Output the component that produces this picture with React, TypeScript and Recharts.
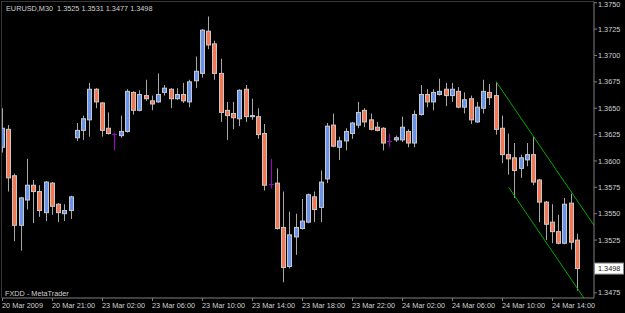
import { ComposedChart, Bar, XAxis, YAxis, ReferenceLine } from 'recharts';

// EURUSD M30 bars, 20 Mar 17:00 .. 24 Mar 15:00 (2009)
const OPEN = [
  1.3613, 1.3630, 1.3586, 1.3539, 1.3563, 1.3577, 1.3571, 1.3551, 1.3579, 1.3559,
  1.3550, 1.3553, 1.3622, 1.3629, 1.3639, 1.3668, 1.3655, 1.3631, 1.3626, 1.3624,
  1.3628, 1.3665, 1.3648, 1.3662, 1.3657, 1.3656, 1.3665, 1.3668, 1.3659, 1.3663,
  1.3656, 1.3676, 1.3683, 1.3723, 1.3711, 1.3683, 1.3648, 1.3645, 1.3640, 1.3668,
  1.3642, 1.3642, 1.3626, 1.3578, 1.3579, 1.3537, 1.3500, 1.3528, 1.3536, 1.3542,
  1.3566, 1.3556, 1.3583, 1.3634, 1.3613, 1.3619, 1.3626, 1.3634, 1.3648, 1.3639,
  1.3632, 1.3631, 1.3619, 1.3620, 1.3620, 1.3628, 1.3617, 1.3644, 1.3663, 1.3656,
  1.3663, 1.3668, 1.3662, 1.3666, 1.3651, 1.3659, 1.3637, 1.3650, 1.3665, 1.3662,
  1.3631, 1.3606, 1.3603, 1.3593, 1.3601, 1.3606, 1.3582, 1.3561, 1.3542, 1.3533,
  1.3522, 1.3560, 1.3525,
];
const HIGH = [
  1.3650, 1.3634, 1.3588, 1.3566, 1.3602, 1.3582, 1.3577, 1.3581, 1.3580, 1.3560,
  1.3559, 1.3567, 1.3636, 1.3643, 1.3674, 1.3669, 1.3656, 1.3646, 1.3627, 1.3643,
  1.3668, 1.3666, 1.3667, 1.3677, 1.3662, 1.3683, 1.3672, 1.3669, 1.3669, 1.3674,
  1.3677, 1.3699, 1.3725, 1.3737, 1.3714, 1.3697, 1.3656, 1.3656, 1.3668, 1.3672,
  1.3659, 1.3650, 1.3635, 1.3602, 1.3593, 1.3571, 1.3552, 1.3550, 1.3564, 1.3569,
  1.3571, 1.3591, 1.3636, 1.3645, 1.3623, 1.3631, 1.3637, 1.3656, 1.3650, 1.3645,
  1.3637, 1.3632, 1.3626, 1.3624, 1.3642, 1.3630, 1.3648, 1.3672, 1.3668, 1.3668,
  1.3678, 1.3674, 1.3674, 1.3670, 1.3665, 1.3662, 1.3656, 1.3677, 1.3673, 1.3675,
  1.3643, 1.3626, 1.3617, 1.3606, 1.3617, 1.3623, 1.3583, 1.3562, 1.3559, 1.3549,
  1.3565, 1.3569, 1.3531,
];
const LOW = [
  1.3608, 1.3571, 1.3524, 1.3515, 1.3554, 1.3541, 1.3547, 1.3543, 1.3549, 1.3542,
  1.3543, 1.3545, 1.3619, 1.3620, 1.3623, 1.3650, 1.3623, 1.3625, 1.3610, 1.3622,
  1.3627, 1.3644, 1.3647, 1.3657, 1.3648, 1.3655, 1.3662, 1.3650, 1.3658, 1.3655,
  1.3651, 1.3669, 1.3679, 1.3706, 1.3677, 1.3637, 1.3620, 1.3630, 1.3633, 1.3637,
  1.3639, 1.3621, 1.3572, 1.3574, 1.3535, 1.3485, 1.3498, 1.3511, 1.3535, 1.3541,
  1.3542, 1.3542, 1.3579, 1.3613, 1.3601, 1.3610, 1.3621, 1.3631, 1.3632, 1.3629,
  1.3628, 1.3610, 1.3613, 1.3618, 1.3618, 1.3613, 1.3613, 1.3643, 1.3651, 1.3648,
  1.3662, 1.3652, 1.3656, 1.3650, 1.3645, 1.3635, 1.3636, 1.3645, 1.3653, 1.3625,
  1.3598, 1.3587, 1.3565, 1.3584, 1.3595, 1.3577, 1.3542, 1.3525, 1.3522, 1.3521,
  1.3521, 1.3516, 1.3477,
];
const CLOSE = [
  1.3631, 1.3584, 1.3539, 1.3565, 1.3577, 1.3571, 1.3553, 1.3580, 1.3557, 1.3551,
  1.3553, 1.3566, 1.3629, 1.3640, 1.3668, 1.3656, 1.3629, 1.3626, 1.3626, 1.3628,
  1.3666, 1.3648, 1.3663, 1.3659, 1.3654, 1.3663, 1.3669, 1.3659, 1.3663, 1.3657,
  1.3675, 1.3685, 1.3724, 1.3710, 1.3683, 1.3646, 1.3643, 1.3641, 1.3667, 1.3642,
  1.3643, 1.3625, 1.3577, 1.3578, 1.3536, 1.3499, 1.3530, 1.3537, 1.3543, 1.3568,
  1.3554, 1.3580, 1.3633, 1.3614, 1.3619, 1.3628, 1.3636, 1.3646, 1.3637, 1.3630,
  1.3629, 1.3617, 1.3619, 1.3622, 1.3632, 1.3617, 1.3644, 1.3663, 1.3656, 1.3665,
  1.3666, 1.3662, 1.3668, 1.3651, 1.3658, 1.3639, 1.3651, 1.3666, 1.3660, 1.3630,
  1.3606, 1.3602, 1.3591, 1.3603, 1.3606, 1.3580, 1.3561, 1.3540, 1.3533, 1.3522,
  1.3559, 1.3523, 1.3498,
];

const TIME_TICKS = [0, 8, 16, 24, 32, 40, 48, 56, 64, 72, 80, 88];
const TIME_LABELS = [
  '20 Mar 2009', '20 Mar 21:00', '23 Mar 02:00', '23 Mar 06:00', '23 Mar 10:00', '23 Mar 14:00',
  '23 Mar 18:00', '23 Mar 22:00', '24 Mar 02:00', '24 Mar 06:00', '24 Mar 10:00', '24 Mar 14:00',
];
// 1.3500 is hidden under the last-price tag in the terminal
const PRICE_TICKS = [
  1.3475, 1.3525, 1.355, 1.3575, 1.36, 1.3625, 1.365, 1.3675, 1.37, 1.3725, 1.375,
];

// trend channel drawn on the chart
const UPPER_CHANNEL = [{ x: 79, y: 1.3675 }, { x: 94.64, y: 1.3539 }];
const LOWER_CHANNEL = [{ x: 81, y: 1.3575 }, { x: 94.64, y: 1.3456 }];

const BULL = '#6893ec';
const BEAR = '#f57650';
const WICK = '#a8a8a8';
const OUTLINE = '#c8c8c8';
const DOJI = '#a000c8';
const TEXT = '#d0d0d0';
const AXIS = '#808080';
const FONT = '"Liberation Sans", Arial, sans-serif';
const FS = 7.3;

const data = OPEN.map((open, i) => ({
  i,
  open,
  high: HIGH[i],
  low: LOW[i],
  close: CLOSE[i],
}));

function Candle(props: any) {
  const { x, y, width, height, payload } = props;
  if (!payload || height == null) return null;
  const { open, high, low, close } = payload;
  const k = high > low ? height / (high - low) : 0;
  const cx = Math.floor(x + width / 2) + 0.5;
  const yO = y + (high - open) * k;
  const yC = y + (high - close) * k;

  if (open === close) {
    const yy = Math.round(yO) + 0.5;
    return (
      <g>
        <line x1={cx} x2={cx} y1={y} y2={y + height} stroke={DOJI} />
        <line x1={cx - 2.5} x2={cx + 2.5} y1={yy} y2={yy} stroke={DOJI} />
      </g>
    );
  }

  const top = Math.min(yO, yC);
  const bot = Math.max(yO, yC);
  return (
    <g>
      <line x1={cx} x2={cx} y1={y} y2={y + height} stroke={WICK} />
      <rect
        x={cx - 2}
        y={top}
        width={4}
        height={Math.max(bot - top, 1)}
        fill={close > open ? BULL : BEAR}
        stroke={OUTLINE}
        strokeWidth={1}
      />
    </g>
  );
}

function TimeTick({ x, y, payload }: any) {
  const idx = TIME_TICKS.indexOf(payload.value);
  return (
    <text x={x - 0.5} y={y + 6} fill={TEXT} fontSize={FS} fontFamily={FONT} textAnchor="start">
      {TIME_LABELS[idx]}
    </text>
  );
}

function PriceTick({ x, y, payload }: any) {
  // keep the topmost label inside the window
  const base = Math.max(y + 2.6, 6.6);
  return (
    <text x={x} y={base} fill={TEXT} fontSize={FS} fontFamily={FONT} textAnchor="start">
      {Number(payload.value).toFixed(4)}
    </text>
  );
}

function PriceTag({ viewBox }: any) {
  if (!viewBox) return null;
  const right = viewBox.x + viewBox.width;
  const yy = viewBox.y;
  return (
    <g>
      <rect x={right + 0.5} y={yy - 5.5} width={29} height={11} fill="#ffffff" stroke="#909090" />
      <text x={right + 4} y={yy + 2.6} fill="#202020" fontSize={FS} fontFamily={FONT}>
        {CLOSE[CLOSE.length - 1].toFixed(4)}
      </text>
    </g>
  );
}

export default function App() {
  return (
    <div style={{ position: 'fixed', left: 0, top: 0, width: 625, height: 313, background: '#000' }}>
      <ComposedChart width={625} height={313} data={data} margin={{ top: 2, right: 1, bottom: 1, left: 2 }}>
        <XAxis
          type="number"
          dataKey="i"
          domain={[-0.08, 94.64]}
          ticks={TIME_TICKS}
          interval={0}
          allowDataOverflow
          height={14}
          tickSize={3}
          tickMargin={1}
          axisLine={{ stroke: AXIS }}
          tickLine={{ stroke: AXIS }}
          tick={<TimeTick />}
        />
        <YAxis
          orientation="right"
          type="number"
          domain={[1.34701, 1.37507]}
          ticks={PRICE_TICKS}
          interval={0}
          allowDataOverflow
          width={30}
          tickSize={3}
          tickMargin={1}
          axisLine={{ stroke: AXIS }}
          tickLine={{ stroke: AXIS }}
          tick={<PriceTick />}
        />
        <Bar
          dataKey={(d: any) => [d.low, d.high]}
          barSize={4}
          shape={(p: any) => <Candle {...p} />}
          isAnimationActive={false}
        />
        <ReferenceLine segment={UPPER_CHANNEL} stroke="#00a800" ifOverflow="hidden" />
        <ReferenceLine segment={LOWER_CHANNEL} stroke="#00a800" ifOverflow="hidden" />
        <ReferenceLine y={CLOSE[CLOSE.length - 1]} stroke="none" label={<PriceTag />} />
      </ComposedChart>
      <svg
        width={625}
        height={313}
        style={{ position: 'absolute', left: 0, top: 0, pointerEvents: 'none' }}
      >
        <line x1={1.5} x2={1.5} y1={1.5} y2={298} stroke="#707070" strokeDasharray="1 1" />
        <line x1={1.5} x2={594} y1={1.5} y2={1.5} stroke="#707070" strokeDasharray="1 1" />
        <text x={6} y={10.5} fill={TEXT} fontSize={FS} fontFamily={FONT} style={{ whiteSpace: 'pre' }}>
          {'EURUSD,M30  1.3525 1.3531 1.3477 1.3498'}
        </text>
        <text x={5} y={295.5} fill={TEXT} fontSize={FS} fontFamily={FONT}>
          FXDD - MetaTrader
        </text>
      </svg>
    </div>
  );
}
